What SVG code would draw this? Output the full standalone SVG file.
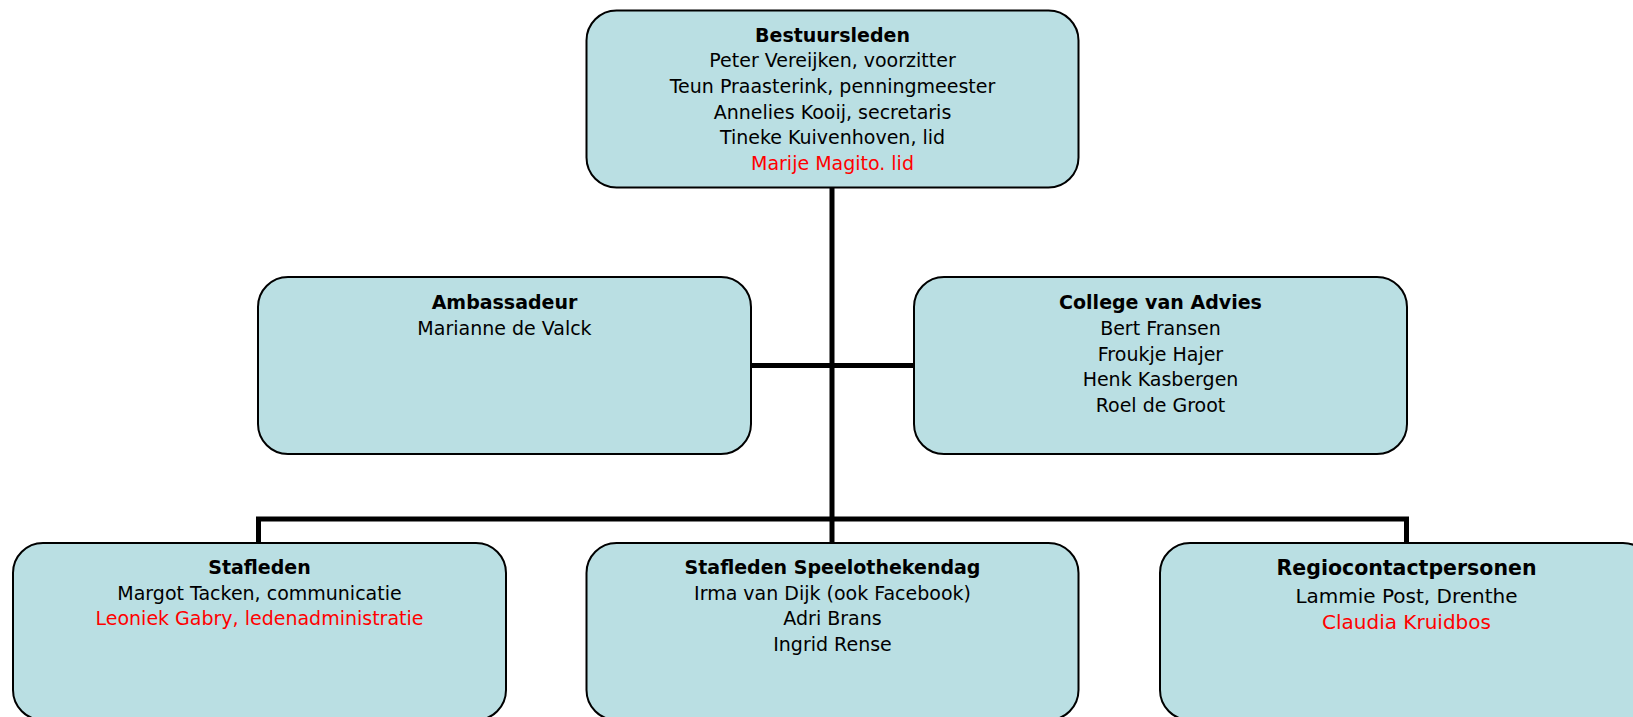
<svg xmlns="http://www.w3.org/2000/svg" width="1633" height="717" viewBox="0 0 1633 717">
<style>
.box{fill:#BADFE3;stroke:#000;stroke-width:2}
.conn{fill:none;stroke:#000;stroke-width:5}
text{font-family:"DejaVu Sans","Liberation Sans",sans-serif;font-size:19px;text-anchor:middle;fill:#000}
.t{font-weight:bold}
.r{fill:#FF0000}
.bt{font-size:20.5px}
.big{font-size:20px}
</style>
<rect width="1633" height="717" fill="#fff"/>
<g id="connectors">
<path class="conn" d="M832 188V519"/>
<path class="conn" d="M751 365.5H914"/>
<path class="conn" d="M258.5 543V519H1406.5V543"/>
<path class="conn" d="M832 519V543"/>
</g>
<g id="bestuursleden">
<rect class="box" x="586.5" y="10.5" width="492" height="177" rx="30"/>
<text class="t" x="832.5" y="41.5">Bestuursleden</text>
<text x="832.5" y="67.2">Peter Vereijken, voorzitter</text>
<text x="832.5" y="92.9">Teun Praasterink, penningmeester</text>
<text x="832.5" y="118.6">Annelies Kooij, secretaris</text>
<text x="832.5" y="144.3">Tineke Kuivenhoven, lid</text>
<text class="r" x="832.5" y="170">Marije Magito. lid</text>
</g>
<g id="ambassadeur">
<rect class="box" x="258" y="277" width="493" height="177" rx="30"/>
<text class="t" x="504.5" y="309">Ambassadeur</text>
<text x="504.5" y="335">Marianne de Valck</text>
</g>
<g id="college">
<rect class="box" x="914" y="277" width="493" height="177" rx="30"/>
<text class="t" x="1160.5" y="309">College van Advies</text>
<text x="1160.5" y="335">Bert Fransen</text>
<text x="1160.5" y="360.7">Froukje Hajer</text>
<text x="1160.5" y="386.4">Henk Kasbergen</text>
<text x="1160.5" y="412">Roel de Groot</text>
</g>
<g id="stafleden">
<rect class="box" x="13" y="543" width="493" height="177" rx="30"/>
<text class="t" x="259.5" y="573.5">Stafleden</text>
<text x="259.5" y="599.5">Margot Tacken, communicatie</text>
<text class="r" x="259.5" y="625">Leoniek Gabry, ledenadministratie</text>
</g>
<g id="speelothekendag">
<rect class="box" x="586.5" y="543" width="492" height="177" rx="30"/>
<text class="t" x="832.5" y="573.5">Stafleden Speelothekendag</text>
<text x="832.5" y="599.5">Irma van Dijk (ook Facebook)</text>
<text x="832.5" y="625">Adri Brans</text>
<text x="832.5" y="650.5">Ingrid Rense</text>
</g>
<g id="regiocontactpersonen">
<rect class="box" x="1160" y="543" width="493" height="177" rx="30"/>
<text class="t bt" x="1406.5" y="575">Regiocontactpersonen</text>
<text class="big" x="1406.5" y="603">Lammie Post, Drenthe</text>
<text class="r big" x="1406.5" y="628.5">Claudia Kruidbos</text>
</g>
</svg>
